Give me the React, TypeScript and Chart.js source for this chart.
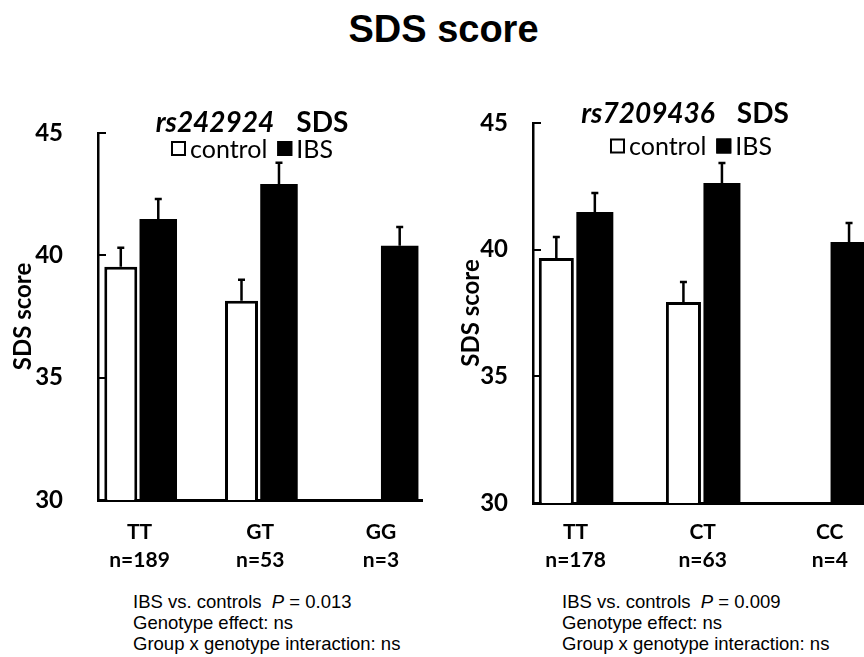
import React, { useEffect, useRef } from "react";
import { Chart, registerables } from "chart.js";

Chart.register(...registerables);

// ---------- data ----------
const yTickValues = [30, 35, 40, 45];
const seriesNames = ["control", "IBS"];

const leftSnp = "rs242924";
const leftGenotypes = ["TT", "GT", "GG"];
const leftCounts = ["n=189", "n=53", "n=3"];
const leftControl: (number | null)[] = [39.53, 38.14, null];
const leftControlErr: (number | null)[] = [0.78, 0.86, null];
const leftIBS: (number | null)[] = [41.49, 42.92, 40.39];
const leftIBSErr: (number | null)[] = [0.81, 0.86, 0.77];
const leftP = "0.013";

const rightSnp = "rs7209436";
const rightGenotypes = ["TT", "CT", "CC"];
const rightCounts = ["n=178", "n=63", "n=4"];
const rightControl: (number | null)[] = [39.67, 37.93, null];
const rightControlErr: (number | null)[] = [0.83, 0.79, null];
const rightIBS: (number | null)[] = [41.49, 42.63, 40.3];
const rightIBSErr: (number | null)[] = [0.75, 0.79, 0.75];
const rightP = "0.009";

const noteLines = ["IBS vs. controls", "Genotype effect: ns", "Group x genotype interaction: ns"];

// ---------- layout ----------
type Layout = {
  left: number; top: number; width: number; height: number;
  padTop: number; padRight: number; yWidth: number; xHeight: number;
  xMin: number; xMax: number; catPct: number; ctrlPct: number; ibsPct: number;
  yTickPad: number; yTitlePad: number; xTickPad: number;
  titleCx: number; titleBase: number; legendCx: number; legendCy: number;
  notesLeft: number;
};

const leftLayout: Layout = {
  left: 0, top: 60, width: 432, height: 520,
  padTop: 73, padRight: 10, yWidth: 98, xHeight: 80,
  xMin: -0.344, xMax: 2.34, catPct: 0.621, ctrlPct: 0.88, ibsPct: 1.0,
  yTickPad: 35, yTitlePad: 9, xTickPad: 19,
  titleCx: 252, titleBase: 72, legendCx: 252, legendCy: 88.5,
  notesLeft: 133,
};

const rightLayout: Layout = {
  left: 432, top: 60, width: 450, height: 523,
  padTop: 63, padRight: 9, yWidth: 101, xHeight: 80,
  xMin: -0.335, xMax: 2.34, catPct: 0.606, ctrlPct: 0.91, ibsPct: 0.96,
  yTickPad: 25, yTitlePad: 25, xTickPad: 16,
  titleCx: 253, titleBase: 63, legendCx: 259, legendCy: 86,
  notesLeft: 562,
};

const toPoints = (vals: (number | null)[]) =>
  vals
    .map((v, i) => (v === null ? null : { x: i, y: v }))
    .filter((p) => p !== null) as { x: number; y: number }[];

const toErrs = (vals: (number | null)[], errs: (number | null)[]) =>
  vals
    .map((v, i) => (v === null ? null : errs[i]))
    .filter((e, i) => vals[i] !== null) as number[];

const errorBarPlugin = {
  id: "errorBars",
  afterDatasetsDraw(chart: any) {
    const ctx = chart.ctx;
    const yScale = chart.scales.y;
    ctx.save();
    ctx.strokeStyle = "#000";
    ctx.lineWidth = 2.5;
    chart.data.datasets.forEach((ds: any, di: number) => {
      const meta = chart.getDatasetMeta(di);
      meta.data.forEach((el: any, j: number) => {
        const err = ds.errorBars[j];
        const val = ds.data[j].y;
        if (err == null) return;
        const yTop = yScale.getPixelForValue(val + err);
        const yBar = yScale.getPixelForValue(val);
        ctx.beginPath();
        ctx.moveTo(el.x, yBar);
        ctx.lineTo(el.x, yTop);
        ctx.moveTo(el.x - 3.5, yTop);
        ctx.lineTo(el.x + 3.5, yTop);
        ctx.stroke();
      });
    });
    ctx.restore();
  },
};

const innerTickPlugin = {
  id: "innerTicks",
  afterDatasetsDraw(chart: any) {
    const ctx = chart.ctx;
    const yScale = chart.scales.y;
    const x0 = chart.chartArea.left;
    ctx.save();
    ctx.strokeStyle = "#000";
    ctx.lineWidth = 2;
    yTickValues.slice(1).forEach((v) => {
      const y = Math.round(yScale.getPixelForValue(v));
      ctx.beginPath();
      ctx.moveTo(x0, y);
      ctx.lineTo(x0 + 8, y);
      ctx.stroke();
    });
    ctx.restore();
  },
};

function makeHeaderPlugin(snp: string, lay: Layout) {
  return {
    id: "panelHeader",
    afterDraw(chart: any) {
      const ctx = chart.ctx;
      ctx.save();
      ctx.fillStyle = "#000";
      ctx.textBaseline = "alphabetic";
      const fItal = "italic bold 28px Lato";
      const fBold = "bold 28px Lato";
      ctx.font = fItal;
      const w1 = ctx.measureText(snp).width;
      ctx.font = fBold;
      const w2 = ctx.measureText("SDS").width;
      const gap = 22;
      let x = lay.titleCx - (w1 + gap + w2) / 2;
      ctx.font = fItal;
      ctx.textAlign = "left";
      ctx.fillText(snp, x, lay.titleBase);
      ctx.font = fBold;
      ctx.fillText("SDS", x + w1 + gap, lay.titleBase);

      // legend
      ctx.font = "25px Lato";
      const box = 15;
      const gapBT = 4;
      const gapItems = 10;
      const items = chart.data.datasets.map((d: any) => ({
        label: d.label,
        fill: d.backgroundColor,
        w: ctx.measureText(d.label).width,
      }));
      const total =
        items.reduce((s: number, it: any) => s + box + gapBT + it.w, 0) +
        gapItems * (items.length - 1);
      x = lay.legendCx - total / 2;
      const cy = lay.legendCy;
      items.forEach((it: any) => {
        ctx.fillStyle = it.fill;
        ctx.fillRect(x, cy - box / 2, box, box);
        ctx.strokeStyle = "#000";
        ctx.lineWidth = 2;
        ctx.strokeRect(x + 1, cy - box / 2 + 1, box - 2, box - 2);
        ctx.fillStyle = "#000";
        ctx.textBaseline = "middle";
        ctx.fillText(it.label, x + box + gapBT, cy + 1);
        x += box + gapBT + it.w + gapItems;
      });
      ctx.restore();
    },
  };
}

function Panel(props: {
  snp: string; genotypes: string[]; counts: string[];
  control: (number | null)[]; controlErr: (number | null)[];
  ibs: (number | null)[]; ibsErr: (number | null)[]; lay: Layout;
}) {
  const ref = useRef<HTMLCanvasElement>(null);
  useEffect(() => {
    const { lay } = props;
    const chart = new Chart(ref.current as HTMLCanvasElement, {
      type: "bar",
      data: {
        datasets: [
          {
            label: seriesNames[0],
            data: toPoints(props.control),
            errorBars: toErrs(props.control, props.controlErr),
            backgroundColor: "#ffffff",
            borderColor: "#000000",
            borderWidth: 3,
            borderSkipped: false,
            categoryPercentage: lay.catPct,
            barPercentage: lay.ctrlPct,
          } as any,
          {
            label: seriesNames[1],
            data: toPoints(props.ibs),
            errorBars: toErrs(props.ibs, props.ibsErr),
            backgroundColor: "#000000",
            borderColor: "#000000",
            borderWidth: 0,
            categoryPercentage: lay.catPct,
            barPercentage: lay.ibsPct,
          } as any,
        ],
      },
      options: {
        animation: false,
        responsive: false,
        events: [],
        layout: { padding: { top: lay.padTop, right: lay.padRight, left: 0, bottom: 0 } },
        plugins: { legend: { display: false }, tooltip: { enabled: false }, title: { display: false } },
        scales: {
          x: {
            type: "linear",
            min: lay.xMin,
            max: lay.xMax,
            offset: false,
            grid: { display: false, drawTicks: false },
            border: { display: true, color: "#000", width: 3 },
            afterBuildTicks: (s: any) => {
              s.ticks = props.genotypes.map((_, i) => ({ value: i }));
            },
            afterFit: (s: any) => {
              s.height = lay.xHeight;
            },
            ticks: {
              autoSkip: false,
              maxRotation: 0,
              padding: lay.xTickPad,
              color: "#000",
              font: { family: "Lato", weight: "bold", size: 21, lineHeight: 1.3 },
              callback: (_v: any, i: number) => [props.genotypes[i], props.counts[i]],
            },
          },
          y: {
            type: "linear",
            min: yTickValues[0],
            max: yTickValues[yTickValues.length - 1],
            grid: { display: false, drawTicks: false },
            border: { display: true, color: "#000", width: 2.5 },
            afterFit: (s: any) => {
              s.width = lay.yWidth;
            },
            afterBuildTicks: (s: any) => {
              s.ticks = yTickValues.map((v) => ({ value: v }));
            },
            ticks: {
              padding: lay.yTickPad,
              color: "#000",
              font: { family: "Lato", weight: "bold", size: 24 },
            },
            title: {
              display: true,
              text: "SDS score",
              color: "#000",
              font: { family: "Lato", weight: "bold", size: 24, lineHeight: 1.2 },
              padding: { top: lay.yTitlePad, bottom: 0 },
            },
          },
        },
      } as any,
      plugins: [errorBarPlugin, innerTickPlugin, makeHeaderPlugin(props.snp, lay)],
    });
    return () => chart.destroy();
  }, []);
  const lay = props.lay;
  return (
    <canvas
      ref={ref}
      width={lay.width}
      height={lay.height}
      style={{ position: "absolute", left: lay.left, top: lay.top, width: lay.width, height: lay.height }}
    />
  );
}

function Notes(props: { p: string; left: number }) {
  return (
    <div
      style={{
        position: "absolute",
        left: props.left,
        top: 591,
        fontFamily: "'Liberation Sans', Arial, sans-serif",
        fontSize: 18.5,
        lineHeight: "21px",
        color: "#000",
        whiteSpace: "nowrap",
      }}
    >
      <div>
        {noteLines[0]}
        {"\u00a0\u00a0"}
        <i>P</i> = {props.p}
      </div>
      <div>{noteLines[1]}</div>
      <div>{noteLines[2]}</div>
    </div>
  );
}

export default function App() {
  return (
    <div
      style={{
        position: "fixed",
        left: 0,
        top: 0,
        width: 864,
        height: 657,
        overflow: "hidden",
        background: "#fff",
      }}
    >
      <div
        style={{
          position: "absolute",
          left: 443.5,
          top: 10,
          transform: "translateX(-50%)",
          fontFamily: "'Liberation Sans', Arial, sans-serif",
          fontWeight: "bold",
          fontSize: 38,
          lineHeight: 1,
          whiteSpace: "nowrap",
          color: "#000",
        }}
      >
        SDS score
      </div>
      <Panel
        snp={leftSnp}
        genotypes={leftGenotypes}
        counts={leftCounts}
        control={leftControl}
        controlErr={leftControlErr}
        ibs={leftIBS}
        ibsErr={leftIBSErr}
        lay={leftLayout}
      />
      <Panel
        snp={rightSnp}
        genotypes={rightGenotypes}
        counts={rightCounts}
        control={rightControl}
        controlErr={rightControlErr}
        ibs={rightIBS}
        ibsErr={rightIBSErr}
        lay={rightLayout}
      />
      <Notes p={leftP} left={leftLayout.notesLeft} />
      <Notes p={rightP} left={rightLayout.notesLeft} />
    </div>
  );
}
